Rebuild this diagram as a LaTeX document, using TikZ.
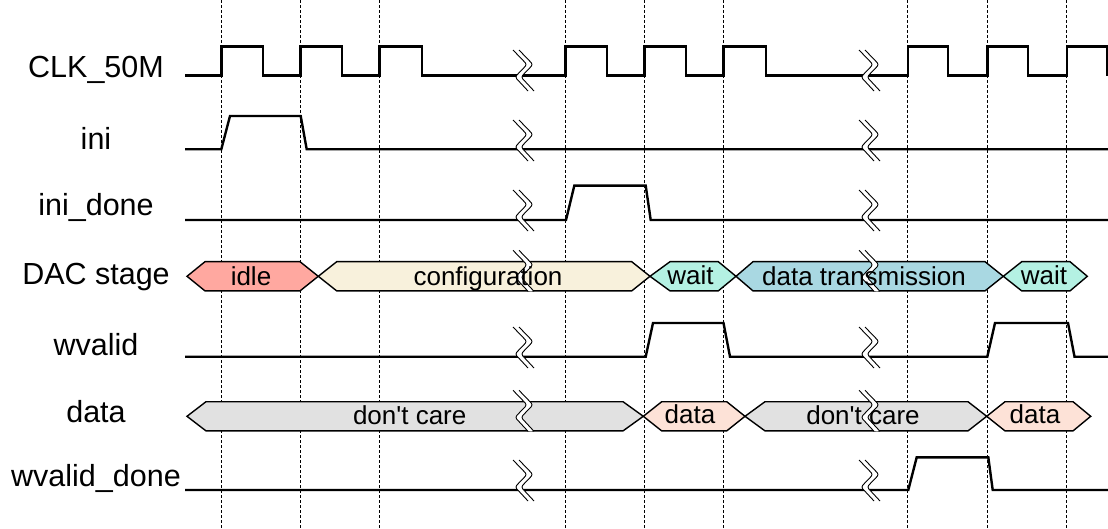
\documentclass[tikz,border=0pt]{standalone}
\usepackage{fontspec}
\setmainfont{Liberation Sans}
\newfontfamily\busfont{Liberation Sans}[Ligatures=TeXOff]
\definecolor{idlefill}{HTML}{FFA8A0}
\definecolor{cfgfill}{HTML}{F8F1DC}
\definecolor{waitfill}{HTML}{B4F1E3}
\definecolor{txfill}{HTML}{A9D8E2}
\definecolor{dcfill}{HTML}{E1E1E1}
\definecolor{datafill}{HTML}{FDE2D7}
% one bus segment: left tip, left corner, right corner, right tip, top y, fill
\newcommand\hexbus[6]{%
  \filldraw[bus, fill=#6] (#1,#5+14.6) -- (#2,#5) -- (#3,#5) -- (#4,#5+14.6)
    -- (#3,#5+29.2) -- (#2,#5+29.2) -- cycle;}
% break marker, placed at the point where it cuts the trace
\newcommand\brk[2]{%
  \begin{scope}[shift={(#1,#2)}]
    \fill[white, rounded corners=2.5pt] (-3,-26) -- (11,-11.5) -- (-1,1) -- (12,15)
      -- (18,15) -- (5,1) -- (17,-11.5) -- (3,-26) -- cycle;
    \draw[cut] (-3,-26) -- (11,-11.5) -- (-1,1) -- (12,15);
    \draw[cut] (3,-26) -- (17,-11.5) -- (5,1) -- (18,15);
  \end{scope}}
\begin{document}
\begin{tikzpicture}[x=1pt,y=-1pt,
  gridline/.style={line width=1.35pt, dash pattern=on 3pt off 2pt},
  wave/.style={line width=2.4pt, line join=miter},
  bus/.style={line width=1.4pt, line join=miter},
  cut/.style={line width=0.9pt, rounded corners=2.5pt},
  lbl/.style={font=\fontsize{30.5}{36}\selectfont, anchor=base, inner sep=0pt},
  bustxt/.style={font=\busfont\fontsize{26}{30}\selectfont, anchor=base, inner sep=0pt}]
\useasboundingbox (0,0) rectangle (1108,529);

% clock-edge guide lines
\foreach \gx in {221.3,300.3,379.3,565.3,644.3,723.3,907.7,987.3,1066.7}
  \draw[gridline] (\gx,0) -- (\gx,529);

% CLK_50M
\def\lo{75.7}\def\hi{46.7}
\draw[wave] (185,\lo) -- (221.3,\lo) -- (221.3,\hi) -- (262.7,\hi) -- (262.7,\lo)
  -- (300.3,\lo) -- (300.3,\hi) -- (342,\hi) -- (342,\lo)
  -- (379.3,\lo) -- (379.3,\hi) -- (421.7,\hi) -- (421.7,\lo)
  -- (565.3,\lo) -- (565.3,\hi) -- (606.7,\hi) -- (606.7,\lo)
  -- (644.3,\lo) -- (644.3,\hi) -- (685.7,\hi) -- (685.7,\lo)
  -- (723.3,\lo) -- (723.3,\hi) -- (766,\hi) -- (766,\lo)
  -- (907.7,\lo) -- (907.7,\hi) -- (948,\hi) -- (948,\lo)
  -- (987.3,\lo) -- (987.3,\hi) -- (1028,\hi) -- (1028,\lo)
  -- (1066.7,\lo) -- (1066.7,\hi) -- (1106.8,\hi) -- (1106.8,\lo);
\brk{516}{76}\brk{862}{76}

% ini
\def\lo{149.3}\def\hi{116}
\draw[wave] (185,\lo) -- (221.3,\lo) -- (230,\hi) -- (300.7,\hi) -- (306.7,\lo) -- (1108,\lo);
\brk{516}{146}\brk{862}{146}

% ini_done
\def\lo{220}\def\hi{185.7}
\draw[wave] (185,\lo) -- (566,\lo) -- (574.3,\hi) -- (645.7,\hi) -- (650.7,\lo) -- (1108,\lo);
\brk{516}{216}\brk{862}{216}

% DAC stage
\def\top{261.7}
\hexbus{187}{205}{300}{318.3}{\top}{idlefill}
\hexbus{318.3}{336.7}{631.7}{650}{\top}{cfgfill}
\hexbus{650}{670}{718.3}{736}{\top}{waitfill}
\hexbus{736}{753}{985}{1003.3}{\top}{txfill}
\hexbus{1003.3}{1021.7}{1070}{1087.3}{\top}{waitfill}
\brk{516}{276.3}\brk{862}{276.3}
\node[bustxt] (s1) at (251,285.5) {idle};
\node[bustxt] (s2) at (488,285.5) {configuration};
\node[bustxt] (s3) at (690.5,284) {wait};
\node[bustxt] (s4) at (864,285.5) {data transmission};
\node[bustxt] (s5) at (1044,284) {wait};

% wvalid
\def\lo{356.7}\def\hi{323}
\draw[wave] (185,\lo) -- (645.7,\lo) -- (653,\hi) -- (723.5,\hi) -- (730,\lo)
  -- (987.3,\lo) -- (995,\hi) -- (1068,\hi) -- (1074.5,\lo) -- (1108,\lo);
\brk{516}{353}\brk{862}{353}

% data
\def\top{401.7}
\hexbus{187}{206}{623}{643.3}{\top}{dcfill}
\hexbus{643.3}{661.7}{726.7}{745}{\top}{datafill}
\hexbus{745}{765}{968}{986.7}{\top}{dcfill}
\hexbus{986.7}{1005}{1073}{1090.7}{\top}{datafill}
\brk{516}{416.3}\brk{862}{416.3}
\node[bustxt] (d1) at (409.7,424) {don't care};
\node[bustxt] (d2) at (690,423.5) {data};
\node[bustxt] (d3) at (863,424) {don't care};
\node[bustxt] (d4) at (1035,423.5) {data};

% wvalid_done
\def\lo{490}\def\hi{457.3}
\draw[wave] (185,\lo) -- (908.3,\lo) -- (916.7,\hi) -- (988.3,\hi) -- (992.7,\lo) -- (1108,\lo);
\brk{516}{486}\brk{862}{486}

% signal names
\node[lbl] (n1) at (96,77.7) {CLK\_50M};
\node[lbl] (n2) at (96,150) {ini};
\node[lbl] (n3) at (96,215.7) {ini\_done};
\node[lbl] (n4) at (96,284) {DAC stage};
\node[lbl] (n5) at (96,355) {wvalid};
\node[lbl] (n6) at (96,422.7) {data};
\node[lbl] (n7) at (96,486.7) {wvalid\_done};
\end{tikzpicture}
\end{document}
